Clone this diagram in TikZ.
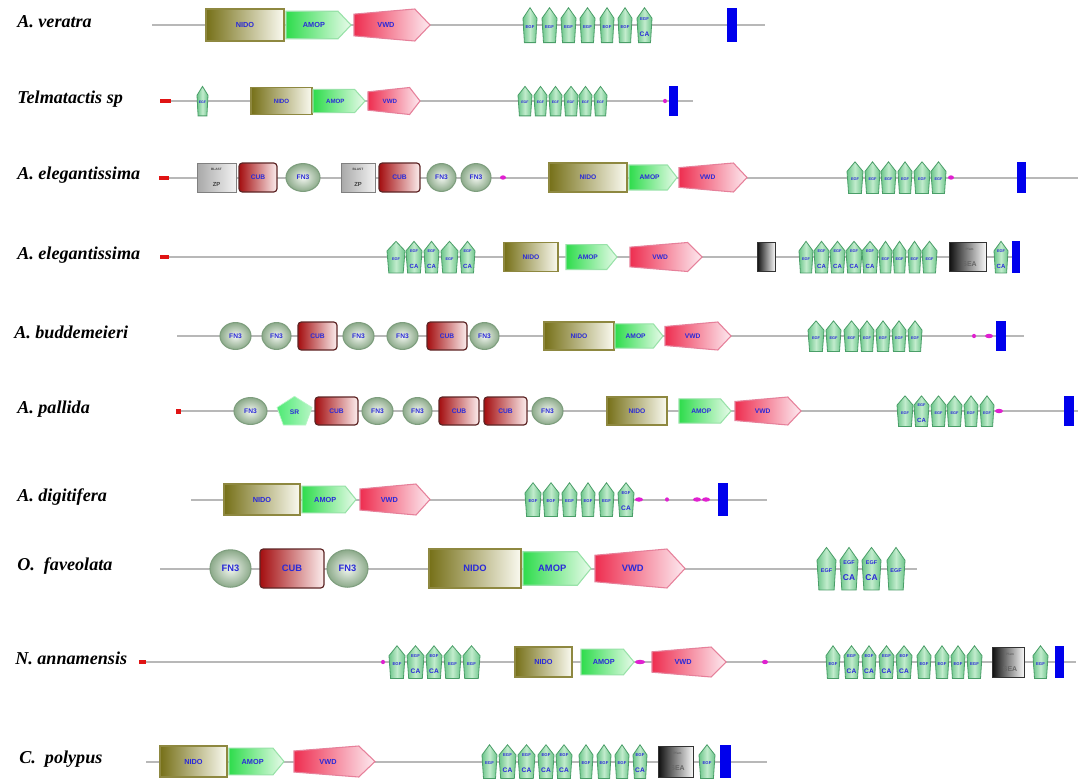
\documentclass[tikz,border=0pt]{standalone}
\usepackage{fontspec}
\setmainfont{Liberation Serif}
\newfontfamily\domfont{Liberation Sans}
\usetikzlibrary{shapes.geometric}

% palette
\definecolor{backbone}{HTML}{B8B8B8}
\definecolor{domtext}{HTML}{2A2AD8}
\definecolor{nidoL}{HTML}{767018}
\definecolor{nidoR}{HTML}{FAFAF0}
\definecolor{nidoedge}{HTML}{8E8840}
\definecolor{amopL}{HTML}{2EDC4C}
\definecolor{amopR}{HTML}{E8FBEA}
\definecolor{amopedge}{HTML}{98E2A8}
\definecolor{vwdL}{HTML}{EE2E50}
\definecolor{vwdR}{HTML}{FDEAF0}
\definecolor{vwdedge}{HTML}{E6809A}
\definecolor{cubL}{HTML}{A40E10}
\definecolor{cubR}{HTML}{FCEEEE}
\definecolor{cubedge}{HTML}{5E2626}
\definecolor{fnin}{HTML}{F2F6F0}
\definecolor{fnout}{HTML}{8CAA8A}
\definecolor{fnedge}{HTML}{7E9E7E}
\definecolor{egfside}{HTML}{6CC58A}
\definecolor{egfmid}{HTML}{C2ECCD}
\definecolor{egfedge}{HTML}{4A9E68}
\definecolor{blastL}{HTML}{A8A8A8}
\definecolor{blastR}{HTML}{F2F2F2}
\definecolor{seaL}{HTML}{0E0E0E}
\definecolor{seaR}{HTML}{F8F8F8}
\definecolor{srL}{HTML}{4EEA74}
\definecolor{srR}{HTML}{B8F6C6}
\definecolor{tmblue}{HTML}{0000EC}
\definecolor{sigred}{HTML}{E01414}
\definecolor{lcpink}{HTML}{E020D0}

\tikzset{
  spine/.style={draw=backbone, line width=1.5pt},
  species/.style={anchor=base west, inner sep=0pt, font=\bfseries\itshape\fontsize{13.6}{15}\selectfont},
  dlabel/.style={inner sep=0pt, text=domtext, font=\domfont\bfseries\fontsize{\fs}{\fs}\selectfont},
  smalllabel/.style={inner sep=0pt, align=center, font=\domfont\bfseries},
  nidobox/.style={draw=nidoedge, line width=0.8pt, left color=nidoL, right color=nidoR},
  amopbox/.style={draw=amopedge, line width=0.8pt, left color=amopL, right color=amopR},
  vwdbox/.style={draw=vwdedge, line width=0.8pt, left color=vwdL, right color=vwdR},
  cubbox/.style={draw=cubedge, line width=0.9pt, rounded corners=2.5pt, left color=cubL, right color=cubR},
  fnbox/.style={draw=fnedge, line width=0.8pt, inner color=fnin, outer color=fnout},
  egfbox/.style={draw=egfedge, line width=0.6pt, left color=egfside, right color=egfside, middle color=egfmid},
  blastbox/.style={draw=gray, line width=0.6pt, left color=blastL, right color=blastR},
  seabox/.style={draw=black!80, line width=0.7pt, left color=seaL, right color=seaR},
  srbox/.style={draw=srR, line width=0.5pt, left color=srL, right color=srR},
}

\newcounter{dom}
\def\ry{0}\def\rh{10}\def\fs{5}\def\efs{2.5}\def\ecs{4}
\newcommand\setrow[3]{\def\ry{#1}\def\rh{#2}\def\fs{#3}%
  \pgfmathsetmacro\efs{0.58*#3}\pgfmathsetmacro\ecs{0.9*#3}}

% domain glyphs, each given by its left and right ends on the current row
\newcommand\NIDO[2]{\stepcounter{dom}%
  \path[nidobox] (#1,\ry-\rh) rectangle (#2,\ry+\rh);%
  \node[dlabel] (d\arabic{dom}) at ({(#1+#2)/2},\ry) {NIDO};}
\newcommand\AMOP[2]{\stepcounter{dom}%
  \path[amopbox] (#1,\ry-0.86*\rh) -- ({#2-0.2*(#2-#1)},\ry-0.86*\rh) -- (#2,\ry)
    -- ({#2-0.2*(#2-#1)},\ry+0.86*\rh) -- (#1,\ry+0.86*\rh) -- cycle;%
  \node[dlabel] (d\arabic{dom}) at ({#1+0.43*(#2-#1)},\ry) {AMOP};}
\newcommand\VWD[2]{\stepcounter{dom}%
  \path[vwdbox] (#1,\ry-0.68*\rh) -- ({#1+0.8*(#2-#1)},\ry-\rh) -- (#2,\ry)
    -- ({#1+0.8*(#2-#1)},\ry+\rh) -- (#1,\ry+0.68*\rh) -- cycle;%
  \node[dlabel] (d\arabic{dom}) at ({#1+0.42*(#2-#1)},\ry) {VWD};}
\newcommand\CUB[2]{\stepcounter{dom}%
  \path[cubbox] (#1,\ry-\rh) rectangle (#2,\ry+\rh);%
  \node[dlabel] (d\arabic{dom}) at ({(#1+#2)/2},\ry) {CUB};}
\newcommand\FN[2]{\stepcounter{dom}%
  \path[fnbox] ({(#1+#2)/2},\ry) ellipse [x radius={(#2-#1)/2}, y radius={0.96*\rh}];%
  \node[dlabel] (d\arabic{dom}) at ({(#1+#2)/2},\ry) {FN3};}
\newcommand\SR[2]{\stepcounter{dom}%
  \path[srbox] ({(#1+#2)/2},\ry-1.05*\rh) -- (#2,\ry-0.25*\rh) -- ({#2-0.18*(#2-#1)},\ry+\rh)
    -- ({#1+0.18*(#2-#1)},\ry+\rh) -- (#1,\ry-0.25*\rh) -- cycle;%
  \node[dlabel] (d\arabic{dom}) at ({(#1+#2)/2},\ry+1) {SR};}
\newcommand\BLAST[2]{\stepcounter{dom}%
  \path[blastbox] (#1,\ry-\rh) rectangle (#2,\ry+\rh);%
  \node[smalllabel, text=black!75] (d\arabic{dom}) at ({(#1+#2)/2},\ry)
    {\fontsize{2.4}{3}\selectfont BLAST\\\fontsize{4.4}{5}\selectfont ZP};}
\newcommand\SEA[2]{\stepcounter{dom}%
  \path[seabox] (#1,\ry-\rh) rectangle (#2,\ry+\rh);%
  \node[smalllabel, text=black!60] (d\arabic{dom}) at ({(#1+#2)/2+2},\ry)
    {\fontsize{2.4}{3}\selectfont Pfam\\\fontsize{5.2}{6}\selectfont SEA};}
\newcommand\PBOX[2]{\path[seabox] (#1,\ry-\rh) rectangle (#2,\ry+\rh);}
\newcommand\EGF[3]{\stepcounter{dom}%
  \path[egfbox] ({(#1+#2)/2},\ry-1.08*\rh) -- (#2,\ry-0.42*\rh) -- ({#2-0.1*(#2-#1)},\ry+1.1*\rh)
    -- ({#1+0.1*(#2-#1)},\ry+1.1*\rh) -- (#1,\ry-0.42*\rh) -- cycle;%
  \node[smalllabel, text=domtext] (d\arabic{dom}) at ({(#1+#2)/2},\ry+0.12*\rh) {#3};}
\newcommand\TM[2]{\path[fill=tmblue] (#1,\ry-1.08*\rh) rectangle (#2,\ry+1.08*\rh);}
\newcommand\SIG[2]{\path[fill=sigred] (#1,\ry-2) rectangle (#2,\ry+2);}
\newcommand\LC[2]{\path[fill=lcpink] ({(#1+#2)/2},\ry) ellipse [x radius={(#2-#1)/2}, y radius=2.2];}
% EGF captions
\newcommand\eg{\fontsize{\efs}{\efs}\selectfont EGF}
\newcommand\egca{\fontsize{\efs}{\efs}\selectfont EGF\\\fontsize{\ecs}{\ecs}\selectfont CA}

\begin{document}
\begin{tikzpicture}[x=0.75pt,y=-0.75pt]
\useasboundingbox (0,0) rectangle (1081,778);
\fill[white] (0,0) rectangle (1081,778);

% ---- A. veratra
\setrow{25}{16}{5.5}
\node[species] (l1) at (17,\ry+2) {A. veratra};
\coordinate (s1) at (152,\ry); \coordinate (e1) at (765,\ry);
\draw[spine] (s1) -- (e1);
\NIDO{206}{284}\AMOP{286}{351}\VWD{354}{430}
\EGF{523}{537}{\eg}\EGF{542}{557}{\eg}\EGF{561}{576}{\eg}\EGF{580}{595}{\eg}
\EGF{600}{614}{\eg}\EGF{618}{632}{\eg}\EGF{637}{652}{\egca}
\TM{727}{737}

% ---- Telmatactis sp
\setrow{101}{13.5}{4.6}
\node[species] (l2) at (17,\ry+2) {Telmatactis sp};
\coordinate (s2) at (171,\ry); \coordinate (e2) at (693,\ry);
\draw[spine] (s2) -- (e2);
\SIG{160}{171}
\EGF{197}{208}{\eg}
\NIDO{251}{312}\AMOP{313}{365}\VWD{368}{420}
\EGF{518}{532}{\eg}\EGF{534}{547}{\eg}\EGF{549}{562}{\eg}\EGF{564}{578}{\eg}
\EGF{579}{592}{\eg}\EGF{594}{607}{\eg}
\LC{663}{667}
\TM{669}{678}

% ---- A. elegantissima (first)
\setrow{177.5}{14.5}{5}
\node[species] (l3) at (17,\ry+2) {A. elegantissima};
\coordinate (s3) at (169,\ry); \coordinate (e3) at (1078,\ry);
\draw[spine] (s3) -- (e3);
\SIG{159}{169}
\BLAST{197}{236}\CUB{239}{277}\FN{286}{320}
\BLAST{341}{375}\CUB{379}{420}\FN{427}{456}\FN{461}{491}
\LC{500}{506}
\NIDO{549}{627}\AMOP{629}{677}\VWD{679}{747}
\EGF{847}{863}{\eg}\EGF{865}{880}{\eg}\EGF{881}{896}{\eg}\EGF{898}{912}{\eg}
\EGF{914}{930}{\eg}\EGF{931}{946}{\eg}
\LC{948}{954}
\TM{1017}{1026}

% ---- A. elegantissima (second)
\setrow{257}{14.5}{5}
\node[species] (l4) at (17,\ry+2) {A. elegantissima};
\coordinate (s4) at (169,\ry); \coordinate (e4) at (1020,\ry);
\draw[spine] (s4) -- (e4);
\SIG{160}{169}
\EGF{387}{405}{\eg}\EGF{406}{422}{\egca}\EGF{424}{439}{\egca}\EGF{441}{458}{\eg}
\EGF{460}{475}{\egca}
\NIDO{504}{558}\AMOP{566}{617}\VWD{630}{702}
\PBOX{757}{775}
\EGF{799}{813}{\eg}\EGF{814}{829}{\egca}\EGF{830}{845}{\egca}\EGF{846}{862}{\egca}
\EGF{862}{878}{\egca}\EGF{879}{892}{\eg}\EGF{893}{906}{\eg}\EGF{908}{921}{\eg}
\EGF{922}{937}{\eg}
\SEA{949}{986}
\EGF{994}{1008}{\egca}
\TM{1012}{1020}

% ---- A. buddemeieri
\setrow{336}{14}{5}
\node[species] (l5) at (14,\ry+2) {A. buddemeieri};
\coordinate (s5) at (177,\ry); \coordinate (e5) at (1024,\ry);
\draw[spine] (s5) -- (e5);
\FN{220}{251}\FN{262}{291}\CUB{298}{337}\FN{343}{374}\FN{387}{418}
\CUB{427}{467}\FN{470}{499}
\NIDO{544}{614}\AMOP{615}{663}\VWD{665}{731}
\EGF{808}{824}{\eg}\EGF{826}{841}{\eg}\EGF{844}{859}{\eg}\EGF{860}{874}{\eg}
\EGF{876}{890}{\eg}\EGF{892}{906}{\eg}\EGF{908}{922}{\eg}
\LC{972}{976}\LC{985}{993}
\TM{996}{1006}

% ---- A. pallida
\setrow{411}{14}{5}
\node[species] (l6) at (17,\ry+2) {A. pallida};
\coordinate (s6) at (181,\ry); \coordinate (e6) at (1078,\ry);
\draw[spine] (s6) -- (e6);
\path[fill=sigred] (176,\ry-2.5) rectangle (181,\ry+2.5);
\FN{234}{267}\SR{277}{312}\CUB{315}{358}\FN{362}{393}\FN{403}{432}
\CUB{439}{479}\CUB{484}{527}\FN{532}{563}
\NIDO{607}{667}\AMOP{679}{731}\VWD{735}{801}
\EGF{897}{913}{\eg}\EGF{914}{929}{\egca}\EGF{931}{946}{\eg}\EGF{947}{962}{\eg}
\EGF{964}{978}{\eg}\EGF{980}{994}{\eg}
\LC{995}{1003}
\TM{1064}{1074}

% ---- A. digitifera
\setrow{499.5}{15.5}{5.5}
\node[species] (l7) at (17,\ry+2) {A. digitifera};
\coordinate (s7) at (191,\ry); \coordinate (e7) at (767,\ry);
\draw[spine] (s7) -- (e7);
\NIDO{224}{300}\AMOP{302}{356}\VWD{360}{430}
\EGF{525}{541}{\eg}\EGF{543}{559}{\eg}\EGF{562}{577}{\eg}\EGF{581}{595}{\eg}
\EGF{599}{614}{\eg}\EGF{618}{634}{\egca}
\LC{635}{643}\LC{665}{669}\LC{693}{701}\LC{702}{710}
\TM{718}{728}

% ---- O. faveolata
\setrow{568.5}{19.5}{7}
\node[species] (l8) at (17,\ry+2) {O.\ \ faveolata};
\coordinate (s8) at (160,\ry); \coordinate (e8) at (917,\ry);
\draw[spine] (s8) -- (e8);
\FN{210}{251}\CUB{260}{324}\FN{327}{368}
\NIDO{429}{521}\AMOP{523}{591}\VWD{595}{685}
\EGF{817}{836}{\eg}\EGF{840}{858}{\egca}\EGF{862}{881}{\egca}\EGF{887}{905}{\eg}

% ---- N. annamensis
\setrow{662}{15}{5.5}
\node[species] (l9) at (15,\ry+2) {N. annamensis};
\coordinate (s9) at (146,\ry); \coordinate (e9) at (1076,\ry);
\draw[spine] (s9) -- (e9);
\SIG{139}{146}
\LC{381}{385}
\EGF{389}{405}{\eg}\EGF{407}{424}{\egca}\EGF{426}{442}{\egca}\EGF{444}{461}{\eg}
\EGF{463}{480}{\eg}
\NIDO{515}{572}\AMOP{581}{634}
\LC{635}{645}
\VWD{652}{726}
\LC{762}{768}
\EGF{826}{840}{\eg}\EGF{844}{859}{\egca}\EGF{862}{876}{\egca}\EGF{879}{894}{\egca}
\EGF{896}{912}{\egca}\EGF{917}{931}{\eg}\EGF{935}{949}{\eg}\EGF{951}{965}{\eg}
\EGF{967}{982}{\eg}
\SEA{992}{1024}
\EGF{1033}{1048}{\eg}
\TM{1055}{1064}

% ---- C. polypus
\setrow{761.5}{15.5}{5.5}
\node[species] (l10) at (19,\ry+2) {C.\ \ polypus};
\coordinate (s10) at (146,\ry); \coordinate (e10) at (767,\ry);
\draw[spine] (s10) -- (e10);
\NIDO{160}{227}\AMOP{229}{284}\VWD{294}{375}
\EGF{482}{497}{\eg}\EGF{499}{516}{\egca}\EGF{518}{535}{\egca}\EGF{538}{554}{\egca}
\EGF{556}{572}{\egca}\EGF{579}{593}{\eg}\EGF{597}{611}{\eg}\EGF{615}{629}{\eg}
\EGF{633}{647}{\egca}
\SEA{658}{693}
\EGF{699}{715}{\eg}
\TM{720}{731}
\end{tikzpicture}
\end{document}
